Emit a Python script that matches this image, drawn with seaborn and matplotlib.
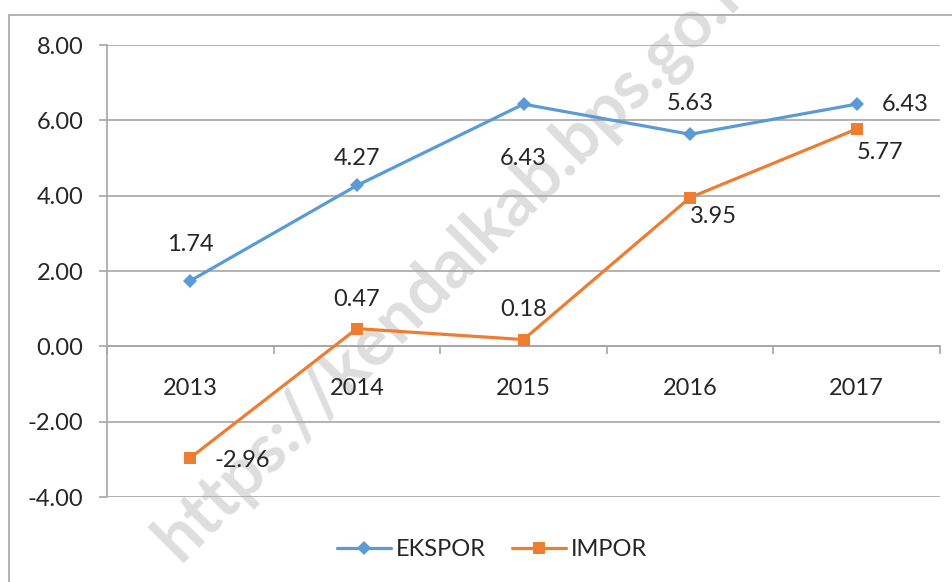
import numpy as np
import pandas as pd
import matplotlib
matplotlib.use("Agg")
import matplotlib.pyplot as plt
import seaborn as sns
from matplotlib.patches import Rectangle

years = ["2013", "2014", "2015", "2016", "2017"]
ekspor = [1.74, 4.27, 6.43, 5.63, 6.43]
impor = [-2.96, 0.47, 0.18, 3.95, 5.77]
series_names = ["EKSPOR", "IMPOR"]
y_ticks = [-4, -2, 0, 2, 4, 6, 8]

df = pd.DataFrame({
    "year": years * 2,
    "value": ekspor + impor,
    "series": [series_names[0]] * 5 + [series_names[1]] * 5,
})
df["pos"] = df["year"].map({y: i for i, y in enumerate(years)})

# label offsets in pixels (dx, dy) from each marker
ekspor_off = [(0, 36), (0, 27), (0, -54), (0, 31), (48, 0)]
impor_off = [(52, -3), (0, 29), (0, 30), (23, -19), (23, -24)]

sns.set_style("white")
plt.rcParams["font.family"] = ["Lato", "DejaVu Sans"]

blue = "#5B9BD5"
orange = "#ED7D31"
grid_c = "#A6A6A6"
fs = 17

fig = plt.figure(figsize=(9.53, 5.82), dpi=100)
ax = fig.add_axes([107 / 953, 1 - 497 / 582, 833 / 953, 452 / 582])

sns.lineplot(
    data=df, x="pos", y="value", hue="series", style="series",
    markers={"EKSPOR": "D", "IMPOR": "s"}, dashes=False,
    palette={"EKSPOR": blue, "IMPOR": orange},
    linewidth=2.3, markersize=9, markeredgewidth=0, ax=ax, legend=False,
    zorder=3,
)
# the diamond a bit smaller than the square
ax.lines[0].set_markersize(7.5)

ax.set_xlim(-0.5, 4.5)
ax.set_ylim(-4, 8)
ax.set_yticks(y_ticks)
ax.set_yticklabels([f"{v:.2f}" for v in y_ticks], fontsize=fs)
ax.yaxis.grid(True, color=grid_c, linewidth=1.2)
ax.set_axisbelow(True)

for s in ["top", "right"]:
    ax.spines[s].set_visible(False)
ax.spines["left"].set_color(grid_c)
ax.spines["left"].set_linewidth(1.2)
ax.spines["bottom"].set_position(("data", 0))
ax.spines["bottom"].set_color(grid_c)
ax.spines["bottom"].set_linewidth(1.2)

ax.tick_params(axis="y", length=6, color=grid_c, width=1.2, pad=11, left=True)
ax.set_xticks(range(len(years)))
ax.set_xticklabels(years, fontsize=fs)
ax.tick_params(axis="x", which="major", length=0, pad=23, bottom=True)
ax.set_xticks(np.arange(-0.5, len(years), 1), minor=True)
ax.tick_params(axis="x", which="minor", length=6, color=grid_c, width=1.2,
               direction="out", bottom=True)
ax.set_xlabel("")
ax.set_ylabel("")

for i, v in enumerate(ekspor):
    dx, dy = ekspor_off[i]
    ax.annotate(f"{v:.2f}", (i, v), xytext=(dx * 0.72, dy * 0.72),
                textcoords="offset points", ha="center", va="center",
                fontsize=fs, zorder=4)
for i, v in enumerate(impor):
    dx, dy = impor_off[i]
    ax.annotate(f"{v:.2f}", (i, v), xytext=(dx * 0.72, dy * 0.72),
                textcoords="offset points", ha="center", va="center",
                fontsize=fs, zorder=4)

# legend
handles = [
    plt.Line2D([], [], color=blue, marker="D", markersize=7.5, linewidth=2.3,
               markeredgewidth=0),
    plt.Line2D([], [], color=orange, marker="s", markersize=9, linewidth=2.3,
               markeredgewidth=0),
]
fig.legend(handles, series_names, loc="center", bbox_to_anchor=(492 / 953, 1 - 550 / 582),
           ncol=2, frameon=False, fontsize=fs, handlelength=2.3, handletextpad=0.2,
           columnspacing=1.1)

# outer chart frame
fig.patches.append(Rectangle((9 / 953, -0.01), 1.0, 1 - 15 / 582 + 0.01,
                             transform=fig.transFigure, fill=False,
                             edgecolor=grid_c, linewidth=1.2))

# watermark, behind everything in the axes (runs off the top edge like the original)
ax.text(462 / 953, 1 - 255 / 582, "https://kendalkab.bps.go.id", rotation=45,
        fontsize=49, fontweight="bold", color="#DEDEDE", ha="center", va="center",
        rotation_mode="anchor", transform=fig.transFigure, clip_on=False, zorder=0.2)

fig.savefig("out.png", dpi=100)
